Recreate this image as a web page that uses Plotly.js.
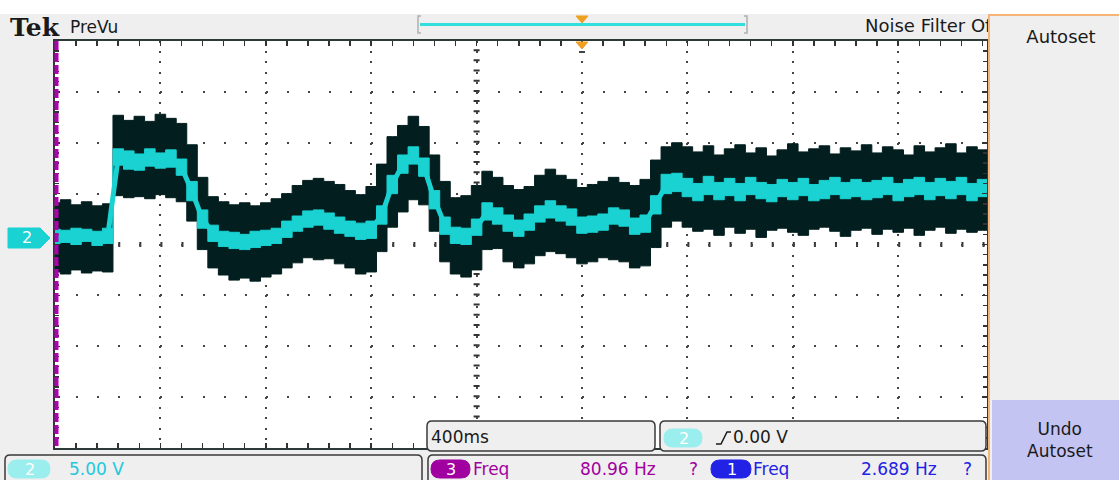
<!DOCTYPE html>
<html><head><meta charset="utf-8">
<script src="https://cdn.plot.ly/plotly-3.0.1.min.js"></script>
<style>html,body{margin:0;padding:0;background:#efefef;overflow:hidden}#chart{width:1119px;height:480px}</style>
</head><body><div id="chart"></div>
<script>
// ---- data (channel 2, volts; 40 ms between samples) ----
const sampleStep = 0.04;
const envelopeTop = [4.1,4.4,3.9,4.2,3.8,4.0,12.7,12.2,12.6,12.1,
 12.8,12.4,11.9,9.8,6.6,4.7,4.2,3.9,4.1,3.8,
 4.1,4.5,5.0,5.8,6.3,6.5,6.2,5.9,5.3,4.9,
 5.7,7.9,10.6,11.7,12.6,11.6,8.8,6.2,4.6,4.8,
 5.8,7.2,6.6,5.8,5.4,5.7,6.8,7.4,6.8,6.4,
 5.6,5.9,6.2,6.6,6.1,5.8,6.4,8.3,9.6,10.0,
 9.6,9.1,9.7,8.8,9.4,9.8,9.0,9.5,8.7,9.3,
 9.9,9.1,9.4,9.7,8.9,9.5,9.2,9.8,9.0,9.6,
 9.3,8.8,9.7,9.1,9.5,9.9,9.0,9.6,9.3,9.5];
const traceMean = [0.8,0.9,0.7,1.0,0.7,0.8,8.6,8.3,8.1,8.5,
 8.3,8.3,7.6,5.2,2.5,1.1,0.6,0.4,0.3,0.5,
 0.6,0.9,1.5,2.1,2.5,2.6,2.3,1.9,1.6,1.3,
 1.5,2.9,5.9,7.9,8.7,7.6,4.4,1.9,0.9,0.9,
 1.7,3.2,2.9,2.1,1.7,2.2,3.0,3.5,3.1,2.7,
 1.9,2.0,2.3,2.8,2.6,1.9,2.1,3.9,5.9,6.1,
 5.6,5.2,5.8,5.3,5.6,5.2,5.7,5.4,5.1,5.5,
 5.3,5.6,5.1,5.4,5.8,5.3,5.6,5.2,5.5,5.7,
 5.2,5.5,5.8,5.3,5.6,5.4,5.7,5.2,5.5,5.4];
const traceHigh = [1.5,1.4,1.6,1.5,1.3,1.6,9.4,9.2,8.9,9.4,
 9.0,9.3,8.4,6.2,3.4,1.9,1.3,1.2,1.0,1.3,
 1.4,1.6,2.3,2.8,3.3,3.4,3.1,2.7,2.3,2.1,
 2.3,3.8,6.8,8.8,9.6,8.5,5.3,2.7,1.7,1.6,
 2.5,4.1,3.6,2.9,2.4,3.0,3.8,4.3,3.8,3.5,
 2.7,2.8,3.0,3.6,3.4,2.6,2.9,4.8,6.9,7.0,
 6.5,6.0,6.7,6.1,6.5,6.0,6.6,6.1,5.9,6.4,
 6.1,6.5,5.9,6.3,6.6,6.1,6.4,6.1,6.3,6.6,
 6.0,6.4,6.6,6.1,6.5,6.2,6.6,6.0,6.4,6.2];
const traceLow = [0.1,0.2,0.0,0.3,-0.1,0.1,7.8,7.4,7.3,7.7,
 7.5,7.6,6.8,4.3,1.6,0.3,-0.2,-0.4,-0.5,-0.3,
 -0.1,0.1,0.7,1.3,1.7,1.9,1.5,1.1,0.8,0.5,
 0.6,2.0,5.0,7.0,7.9,6.7,3.5,1.0,0.1,0.0,
 0.9,2.4,2.0,1.3,0.8,1.4,2.2,2.6,2.3,1.9,
 1.1,1.2,1.4,2.0,1.8,1.0,1.2,3.0,5.0,5.2,
 4.7,4.3,4.9,4.4,4.8,4.3,4.9,4.5,4.2,4.7,
 4.4,4.8,4.3,4.5,4.9,4.5,4.7,4.4,4.6,4.9,
 4.3,4.7,4.9,4.4,4.8,4.5,4.9,4.3,4.7,4.5];
const envelopeBottom = [-2.7,-2.9,-2.5,-2.8,-2.6,-2.7,4.8,4.6,4.7,4.5,
 4.9,4.6,4.2,2.3,-0.5,-2.3,-3.0,-3.5,-3.3,-3.6,
 -3.2,-2.9,-2.3,-1.8,-1.3,-1.5,-1.4,-1.9,-2.3,-2.9,
 -2.7,-0.7,1.7,3.2,4.4,3.9,1.3,-1.7,-2.9,-3.2,
 -2.5,-0.5,-0.4,-1.7,-2.3,-1.9,-1.1,-0.7,-0.9,-1.3,
 -1.9,-1.7,-1.3,-1.5,-1.7,-2.3,-2.1,-0.3,1.7,2.3,
 1.7,1.3,1.5,0.9,1.7,1.1,1.5,0.7,1.4,1.6,
 1.2,0.9,1.5,1.7,1.3,0.8,1.4,1.6,1.0,1.5,
 1.2,1.6,0.9,1.4,1.7,1.1,1.5,1.2,1.4,1.3];
const sampleTimes = envelopeTop.map((_, i) => +(i * sampleStep).toFixed(3));

// ---- labels ----
const headerLabels = ['Tek', 'PreVu', 'Noise Filter Of'];
const menuLabels = ['Autoset', 'Undo<br>Autoset'];
const timebaseLabel = '400ms';
const triggerLabel = ['2', '0.00 V'];
const channelScale = ['2', '5.00 V'];
const measChannels = ['3', '1'];
const measNames = ['Freq', 'Freq'];
const measValues = ['80.96 Hz', '2.689 Hz'];

// ---- geometry helpers (pixel -> paper) ----
const L = 55, R = 987, T = 41, B = 448;
const fx = p => (p - L) / (R - L);
const fy = p => (B - p) / (B - T);
const P = (x, y) => fx(x).toFixed(5) + ',' + fy(y).toFixed(5);
function rr(x0, y0, x1, y1, r) {
  return 'M' + P(x0 + r, y0) + ' L' + P(x1 - r, y0) + ' Q' + P(x1, y0) + ' ' + P(x1, y0 + r) +
    ' L' + P(x1, y1 - r) + ' Q' + P(x1, y1) + ' ' + P(x1 - r, y1) +
    ' L' + P(x0 + r, y1) + ' Q' + P(x0, y1) + ' ' + P(x0, y1 - r) +
    ' L' + P(x0, y0 + r) + ' Q' + P(x0, y0) + ' ' + P(x0 + r, y0) + ' Z';
}
const pathShape = (path, fill, stroke, w, layer) => ({type: 'path', xref: 'paper', yref: 'paper', path,
  fillcolor: fill || 'rgba(0,0,0,0)', line: {color: stroke || 'rgba(0,0,0,0)', width: w || 0}, layer: layer || 'above'});
const FONT = 'DejaVu Sans, Verdana, sans-serif';
const ann = (text, x, y, color, size, extra) => Object.assign({xref: 'paper', yref: 'paper', x: fx(x), y: fy(y),
  text, showarrow: false, xanchor: 'left', yanchor: 'middle', borderpad: 0,
  font: {family: FONT, size: size || 17, color: color || '#1a1a1a'}}, extra || {});

const CYAN = '#1ad2d2', PILLCYAN = '#9beeee', PURPLE = '#a000a0', BLUE = '#2222e6', BOXLINE = '#3a3a3a', DARK = '#021e1e';

const traces = [
  {x: sampleTimes, y: envelopeBottom, mode: 'lines', line: {color: DARK, width: 1, shape: 'hvh'}, hoverinfo: 'skip'},
  {x: sampleTimes, y: envelopeTop, mode: 'lines', fill: 'tonexty', fillcolor: DARK, line: {color: DARK, width: 1, shape: 'hvh'}, hoverinfo: 'skip'},
  {x: sampleTimes, y: traceLow, mode: 'lines', line: {color: CYAN, width: 1, shape: 'hvh'}, hoverinfo: 'skip'},
  {x: sampleTimes, y: traceHigh, mode: 'lines', fill: 'tonexty', fillcolor: CYAN, line: {color: CYAN, width: 1, shape: 'hvh'}, hoverinfo: 'skip'},
  {x: sampleTimes, y: traceMean, mode: 'lines', line: {color: CYAN, width: 5}, hoverinfo: 'skip'}
];

const shapes = [
  {type: 'rect', xref: 'paper', yref: 'paper', x0: fx(0), x1: fx(1119), y0: fy(0), y1: fy(14), fillcolor: '#ffffff', line: {width: 0}, layer: 'below'},
  {type: 'line', xref: 'x', yref: 'y', x0: 0, x1: 3.537, y0: 0, y1: 0, line: {color: '#333', width: 5, dash: '2px,19.08px'}, layer: 'below'},
  {type: 'line', xref: 'x', yref: 'y', x0: 1.6, x1: 1.6, y0: -20, y1: 20, line: {color: '#333', width: 6, dash: '2px,8.175px'}, layer: 'below'},
  pathShape('M' + P(421, 16) + ' L' + P(418, 16) + ' L' + P(418, 33) + ' L' + P(421, 33), null, '#b0b0b0', 1.5),
  pathShape('M' + P(744, 16) + ' L' + P(747, 16) + ' L' + P(747, 33) + ' L' + P(744, 33), null, '#b0b0b0', 1.5),
  pathShape('M' + P(420, 24.5) + ' L' + P(745, 24.5), null, '#33dede', 3),
  pathShape('M' + P(576, 16) + ' L' + P(588, 16) + ' L' + P(582, 23) + ' Z', '#f0a020', '#f0a020', 1),
  pathShape('M' + P(576, 42) + ' L' + P(588, 42) + ' L' + P(582, 49) + ' Z', '#f0a020', '#f0a020', 1),
  pathShape('M' + P(579, 52) + ' L' + P(585, 52), null, '#444', 2),
  pathShape('M' + P(56.5, 41) + ' L' + P(56.5, 448), null, '#b000b0', 4),
  pathShape('M' + P(8, 228) + ' L' + P(40, 228) + ' L' + P(50, 238) + ' L' + P(40, 248) + ' L' + P(8, 248) + ' Z', CYAN, CYAN, 1),
  pathShape(rr(427, 421, 655, 451, 5), '#efefef', BOXLINE, 1.5),
  pathShape(rr(660, 421, 986, 451, 5), '#efefef', BOXLINE, 1.5),
  pathShape(rr(5, 455, 422, 490, 5), '#efefef', BOXLINE, 1.5),
  pathShape(rr(428, 455, 986, 490, 5), '#efefef', BOXLINE, 1.5),
  pathShape(rr(664, 429, 702, 447, 9), PILLCYAN, PILLCYAN, 1),
  pathShape(rr(8, 460, 50, 478, 9), PILLCYAN, PILLCYAN, 1),
  pathShape(rr(431, 460, 470, 478, 9), PURPLE, PURPLE, 1),
  pathShape(rr(711, 460, 751, 478, 9), BLUE, BLUE, 1),
  pathShape('M' + P(716, 444) + ' L' + P(721, 444) + ' L' + P(727, 432) + ' L' + P(731, 432), null, '#1a1a1a', 1.5)
];
shapes[9].line.dash = '9px,3px';

const annotations = [
  ann(headerLabels[0], 9, 27, '#1a1a1a', 25, {font: {family: 'DejaVu Serif, serif', size: 25, color: '#1a1a1a', weight: 'bold'}}),
  ann(headerLabels[1], 69, 27, '#1a1a1a', 17),
  ann(headerLabels[2], 993, 26, '#1a1a1a', 18, {xanchor: 'right'}),
  {xref: 'paper', yref: 'paper', x: fx(988), y: fy(14), xanchor: 'left', yanchor: 'top', text: menuLabels[0], showarrow: false,
   width: 122, height: 470, valign: 'top', align: 'center', bgcolor: '#efefef', bordercolor: '#f6b478', borderwidth: 2, borderpad: 10,
   font: {family: FONT, size: 18, color: '#1a1a1a'}},
  {xref: 'paper', yref: 'paper', x: fx(992), y: fy(400), xanchor: 'left', yanchor: 'top', text: menuLabels[1], showarrow: false,
   width: 136, height: 80, valign: 'middle', align: 'center', bgcolor: '#c4c4f2', borderwidth: 0, borderpad: 0,
   font: {family: FONT, size: 17, color: '#1a1a1a'}},
  ann('2', 21, 238, '#ffffff', 16),
  ann(timebaseLabel, 430, 437, '#1a1a1a', 17),
  ann(triggerLabel[0], 678, 438, '#ffffff', 16),
  ann(triggerLabel[1], 732, 437, '#1a1a1a', 17),
  ann(channelScale[0], 24, 469, '#ffffff', 16),
  ann(channelScale[1], 68, 469, '#22c8dc', 17),
  ann(measChannels[0], 445, 469, '#ffffff', 16),
  ann(measNames[0], 472, 469, PURPLE, 17),
  ann(measValues[0], 657, 469, PURPLE, 17, {xanchor: 'right'}),
  ann('?', 688, 469, PURPLE, 17),
  ann(measChannels[1], 726, 469, '#ffffff', 16),
  ann(measNames[1], 752, 469, BLUE, 17),
  ann(measValues[1], 938, 469, BLUE, 17, {xanchor: 'right'}),
  ann('?', 962, 469, BLUE, 17)
];

const layout = {
  width: 1119, height: 480,
  margin: {l: L, r: 1119 - R, t: T, b: 480 - B, pad: 0},
  paper_bgcolor: '#efefef', plot_bgcolor: '#ffffff',
  showlegend: false,
  xaxis: {range: [0, 3.537], tick0: 0, dtick: 0.4, showticklabels: false, zeroline: false,
    showgrid: true, gridcolor: '#444', gridwidth: 2, griddash: '2px,8.175px',
    ticks: 'inside', ticklen: 5, tickwidth: 1.5, tickcolor: '#333',
    minor: {tick0: 0, dtick: 0.08, ticks: 'inside', ticklen: 5, tickwidth: 1.5, tickcolor: '#333', showgrid: false},
    showline: true, linecolor: '#2c3a3a', linewidth: 2, mirror: 'ticks', fixedrange: true},
  yaxis: {range: [-20, 20], tick0: 0, dtick: 5, showticklabels: false, zeroline: false,
    showgrid: true, gridcolor: '#444', gridwidth: 2, griddash: '2px,19.08px',
    ticks: 'inside', ticklen: 5, tickwidth: 1.5, tickcolor: '#333',
    minor: {tick0: 0, dtick: 1, ticks: 'inside', ticklen: 4, tickwidth: 1.5, tickcolor: '#333', showgrid: false},
    showline: true, linecolor: '#2c3a3a', linewidth: 2, mirror: 'ticks', fixedrange: true},
  shapes, annotations
};

Plotly.newPlot('chart', traces, layout, {staticPlot: true, displayModeBar: false});
</script></body></html>
